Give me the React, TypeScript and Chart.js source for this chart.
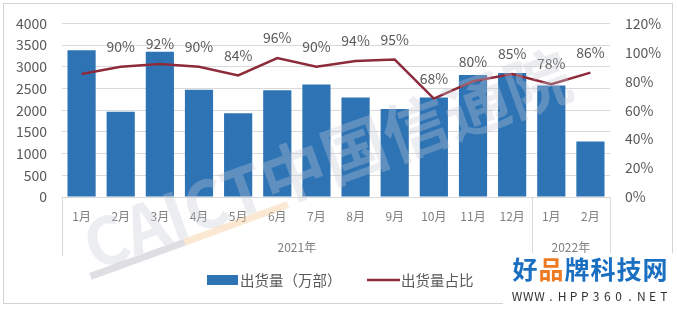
import React, { useEffect, useRef } from "react";
import { Chart, registerables } from "chart.js";

Chart.register(...registerables);

const months = ["1月", "2月", "3月", "4月", "5月", "6月", "7月", "8月", "9月", "10月", "11月", "12月", "1月", "2月"];
const years = [
  { label: "2021年", from: 0, to: 11 },
  { label: "2022年", from: 12, to: 13 },
];
const shipments = [3380, 1966, 3345, 2470, 1928, 2462, 2590, 2293, 2027, 2293, 2811, 2857, 2567, 1280];
const sharePct = [85, 90, 92, 90, 84, 96, 90, 94, 95, 68, 80, 85, 78, 86];
const shareLabels = ["", "90%", "92%", "90%", "84%", "96%", "90%", "94%", "95%", "68%", "80%", "85%", "78%", "86%"];
const seriesNames = ["出货量（万部）", "出货量占比"];

const FONT = '"Microsoft YaHei", "Noto Sans CJK SC", sans-serif';
const BAR = "#2E74B5";
const LINE = "#8E2B3B";

const decor = {
  id: "decor",
  beforeDraw(chart: any) {
    const ctx = chart.ctx;
    ctx.save();
    ctx.fillStyle = "#fff";
    ctx.fillRect(0, 0, chart.width, chart.height);
    ctx.strokeStyle = "#d4d4d4";
    ctx.lineWidth = 1;
    ctx.strokeRect(3.5, 3.5, 669, 300);
    ctx.restore();
  },
  afterDraw(chart: any) {
    const ctx = chart.ctx;
    const x = chart.scales.x;
    const y1 = chart.scales.y1;
    const area = chart.chartArea;
    ctx.save();
    // data labels
    ctx.font = `14px ${FONT}`;
    ctx.fillStyle = "#595959";
    ctx.textAlign = "center";
    ctx.textBaseline = "middle";
    sharePct.forEach((v, i) => {
      if (!shareLabels[i]) return;
      ctx.fillText(shareLabels[i], x.getPixelForValue(i), y1.getPixelForValue(v) - 20);
    });
    // month labels
    ctx.font = `12px ${FONT}`;
    ctx.fillStyle = "#7f7f7f";
    months.forEach((m, i) => {
      ctx.fillText(m, x.getPixelForValue(i), 216);
    });
    // year labels and separators
    const half = (x.getPixelForValue(1) - x.getPixelForValue(0)) / 2;
    ctx.font = `12px ${FONT}`;
    ctx.strokeStyle = "#d9d9d9";
    ctx.lineWidth = 1;
    years.forEach((g) => {
      const a = x.getPixelForValue(g.from) - half;
      const b = x.getPixelForValue(g.to) + half;
      ctx.fillText(g.label, (a + b) / 2, 247);
      [a, b].forEach((px) => {
        ctx.beginPath();
        ctx.moveTo(Math.round(px) + 0.5, area.bottom);
        ctx.lineTo(Math.round(px) + 0.5, 256);
        ctx.stroke();
      });
    });
    // legend
    ctx.fillStyle = BAR;
    ctx.fillRect(207, 275, 31, 10);
    ctx.font = `14.5px ${FONT}`;
    ctx.fillStyle = "#595959";
    ctx.textAlign = "left";
    ctx.fillText(seriesNames[0], 240, 280);
    ctx.strokeStyle = LINE;
    ctx.lineWidth = 2.5;
    ctx.beginPath();
    ctx.moveTo(367, 280);
    ctx.lineTo(400, 280);
    ctx.stroke();
    ctx.fillText(seriesNames[1], 401, 280);
    // CAICT watermark
    ctx.save();
    ctx.translate(327, 160);
    ctx.rotate((-20 * Math.PI) / 180);
    ctx.globalAlpha = 0.33;
    ctx.fillStyle = "#c4c8d4";
    ctx.font = `bold 65px ${FONT}`;
    ctx.textAlign = "center";
    ctx.textBaseline = "middle";
    ctx.fillText("CAICT中国信通院", 0, 0);
    ctx.globalAlpha = 0.4;
    ctx.fillStyle = "#b0b0b8";
    ctx.fillRect(-262, 25, 100, 7);
    ctx.fillStyle = "#f3c58f";
    ctx.fillRect(-162, 25, 110, 7);
    ctx.restore();
    // logo box
    ctx.fillStyle = "#fff";
    ctx.fillRect(503, 253, 174, 56);
    ctx.font = `bold 25px ${FONT}`;
    ctx.textAlign = "center";
    const logo = "好品牌科技网";
    for (let i = 0; i < logo.length; i++) {
      ctx.fillStyle = i === 1 ? "#EE7A22" : "#1A6FC0";
      ctx.fillText(logo[i], 525 + i * 26, 269);
    }
    ctx.font = `12px ${FONT}`;
    ctx.fillStyle = "#333";
    const url = "WWW.HPP360.NET";
    for (let i = 0; i < url.length; i++) {
      ctx.fillText(url[i], 517 + i * 11.3, 296);
    }
    ctx.restore();
  },
};

export default function App() {
  const ref = useRef<HTMLCanvasElement>(null);
  useEffect(() => {
    document.body.style.margin = "0";
    const chart = new Chart(ref.current!, {
      type: "bar",
      data: {
        labels: months,
        datasets: [
          {
            type: "line",
            label: seriesNames[1],
            data: sharePct,
            yAxisID: "y1",
            borderColor: LINE,
            borderWidth: 2.5,
            pointRadius: 0,
            tension: 0,
            order: 0,
          } as any,
          {
            type: "bar",
            label: seriesNames[0],
            data: shipments,
            yAxisID: "y",
            backgroundColor: BAR,
            categoryPercentage: 1,
            barPercentage: 0.72,
            order: 1,
          },
        ],
      },
      options: {
        responsive: false,
        animation: false,
        layout: { padding: { top: 22, left: 0, right: 0, bottom: 0 } },
        plugins: { legend: { display: false }, tooltip: { enabled: false } },
        scales: {
          x: {
            grid: { display: false },
            border: { display: false },
            ticks: { display: false },
            afterFit: (s: any) => {
              s.height = 112;
            },
          },
          y: {
            position: "left",
            min: 0,
            max: 4000,
            ticks: {
              stepSize: 500,
              color: "#595959",
              font: { size: 14, family: FONT },
              padding: 15,
              callback: (v: any) => String(v),
            },
            grid: { color: "#d9d9d9", drawTicks: false },
            border: { display: false },
            afterFit: (s: any) => {
              s.width = 62;
            },
          },
          y1: {
            position: "right",
            min: 0,
            max: 120,
            ticks: {
              stepSize: 20,
              color: "#595959",
              font: { size: 14, family: FONT },
              padding: 15,
              callback: (v: any) => v + "%",
            },
            grid: { display: false, drawTicks: false },
            border: { display: false },
            afterFit: (s: any) => {
              s.width = 67;
            },
          },
        },
      },
      plugins: [decor],
    });
    return () => chart.destroy();
  }, []);
  return (
    <div style={{ width: 677, height: 309 }}>
      <canvas ref={ref} width={677} height={309} />
    </div>
  );
}
